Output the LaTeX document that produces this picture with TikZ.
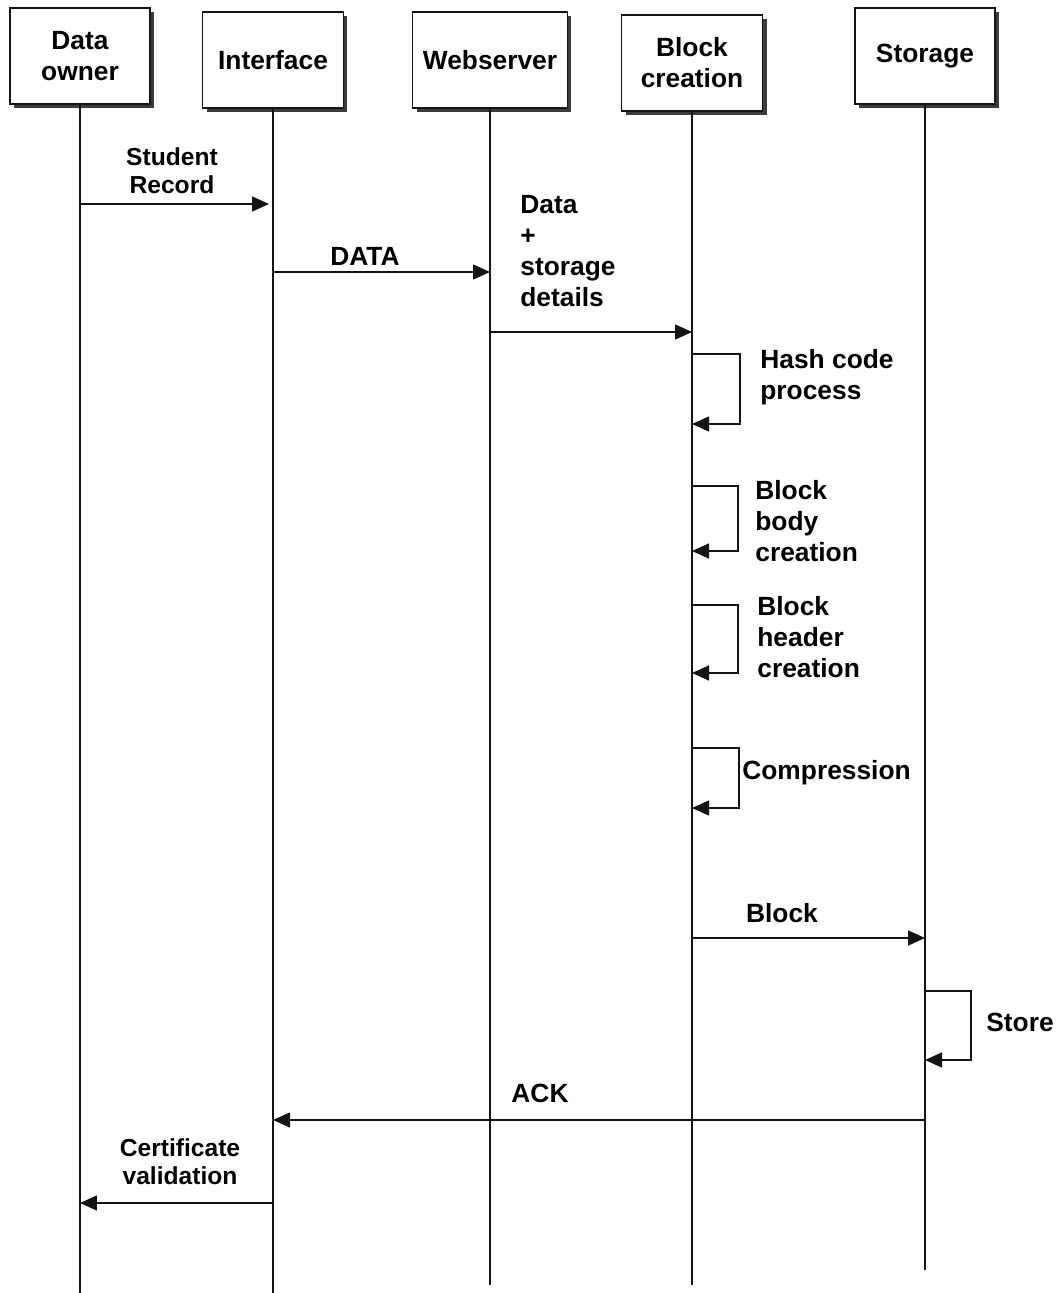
\documentclass[tikz,border=0pt]{standalone}
\usepackage{fontspec}
\setmainfont{Liberation Sans}
\usepackage{tikz}
\usetikzlibrary{arrows.meta,positioning,shadows}
\definecolor{lineblack}{RGB}{20,20,20}
\definecolor{shadowgray}{RGB}{60,60,60}

\begin{document}
\begin{tikzpicture}[
  x=0.02cm, y=-0.02cm,
  every node/.style={font=\fontsize{15}{17.6}\selectfont\bfseries, align=center},
  actor/.style={draw=lineblack, line width=1.1pt, fill=white, minimum height=1.93cm, inner sep=2pt,
    drop shadow={shadow xshift=0.08cm, shadow yshift=-0.08cm, fill=shadowgray, opacity=1}},
  small/.style={font=\fontsize{14}{16}\selectfont\bfseries},
  note/.style={inner sep=0pt, anchor=west, align=left},
  lifeline/.style={draw=lineblack, line width=0.9pt},
  msg/.style={-{Triangle[length=0.34cm,width=0.3cm]}, line width=0.9pt, lineblack}
]
\useasboundingbox (0,0) rectangle (1062,1293);

% actors
\node[actor, minimum width=2.8cm] (owner) at (80,56) {Data\\owner};
\node[actor, minimum width=2.82cm] (iface) at (273,60) {Interface};
\node[actor, minimum width=3.1cm] (web) at (490,60) {Webserver};
\node[actor, minimum width=2.82cm] (block) at (692,63) {Block\\creation};
\node[actor, minimum width=2.8cm] (store) at (925,56) {Storage};

% lifelines
\coordinate (ownerend) at (80,1293);
\coordinate (ifaceend) at (273,1293);
\coordinate (webend) at (490,1285);
\coordinate (blockend) at (692,1285);
\coordinate (storeend) at (925,1270);
\draw[lifeline] (owner.south) -- (ownerend);
\draw[lifeline] (iface.south) -- (ifaceend);
\draw[lifeline] (web.south) -- (webend);
\draw[lifeline] (block.south) -- (blockend);
\draw[lifeline] (store.south) -- (storeend);

% messages
\coordinate (rec1) at (80,204);   \coordinate (rec2) at (269,204);
\coordinate (dat1) at (273,272);  \coordinate (dat2) at (490,272);
\coordinate (sto1) at (490,332);  \coordinate (sto2) at (692,332);
\coordinate (blk1) at (692,938);  \coordinate (blk2) at (925,938);
\coordinate (ack1) at (925,1120); \coordinate (ack2) at (273,1120);
\coordinate (cer1) at (273,1203); \coordinate (cer2) at (80,1203);

\node[small] (recl) at (172,171) {Student\\Record};
\node (datl) at (365,256) {DATA};
\node[note] (stol) at (520,251) {Data\\+\\storage\\details};
\node (blkl) at (782,913) {Block};
\node (ackl) at (540,1093) {ACK};
\node[small] (cerl) at (180,1162) {Certificate\\validation};

\draw[msg] (rec1) -- (rec2);
\draw[msg] (dat1) -- (dat2);
\draw[msg] (sto1) -- (sto2);
\draw[msg] (blk1) -- (blk2);
\draw[msg] (ack1) -- (ack2);
\draw[msg] (cer1) -- (cer2);

% self calls
\coordinate (hash1) at (692,354);  \coordinate (hash2) at (692,424);
\coordinate (body1) at (692,486);  \coordinate (body2) at (692,551);
\coordinate (head1) at (692,605);  \coordinate (head2) at (692,673);
\coordinate (comp1) at (692,748);  \coordinate (comp2) at (692,808);
\coordinate (keep1) at (925,991);  \coordinate (keep2) at (925,1060);

\node[note] (hashl) at (760,377.5) {Hash code\\process};
\node[note] (bodyl) at (755,521) {Block\\body\\creation};
\node[note] (headl) at (757,637) {Block\\header\\creation};
\node[note] (compl) at (742,773) {Compression};
\node[note] (keepl) at (986,1022) {Store};

\draw[msg] (hash1) -| ++(48,0) |- (hash2);
\draw[msg] (body1) -| ++(46,0) |- (body2);
\draw[msg] (head1) -| ++(46,0) |- (head2);
\draw[msg] (comp1) -| ++(47,0) |- (comp2);
\draw[msg] (keep1) -| ++(46,0) |- (keep2);
\end{tikzpicture}
\end{document}
